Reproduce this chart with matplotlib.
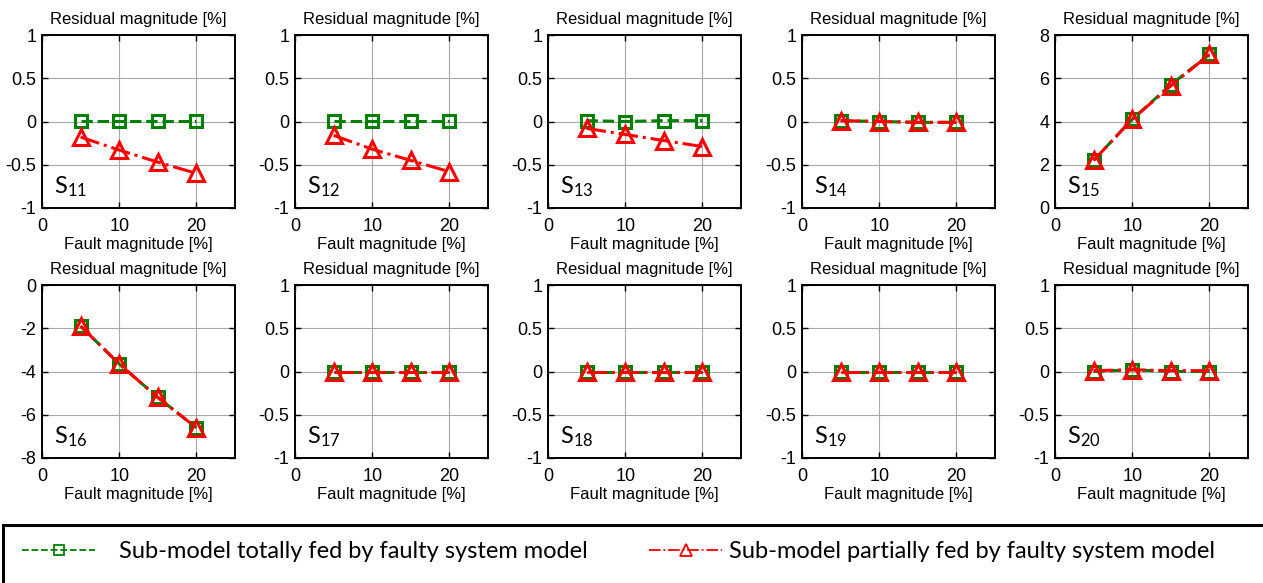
import matplotlib
matplotlib.use("Agg")
import matplotlib.pyplot as plt
from matplotlib.lines import Line2D
from matplotlib.patches import Rectangle

# Dane
fault = [5, 10, 15, 20]
sensors = ["11", "12", "13", "14", "15", "16", "17", "18", "19", "20"]

totally = [
    [0.01, 0.01, 0.01, 0.01],
    [0.01, 0.01, 0.01, 0.01],
    [0.01, 0.0, 0.01, 0.01],
    [0.01, 0.0, -0.01, -0.01],
    [2.2, 4.1, 5.7, 7.1],
    [-1.9, -3.65, -5.2, -6.6],
    [0.0, 0.0, 0.0, 0.0],
    [0.0, 0.0, 0.0, 0.0],
    [0.0, 0.0, 0.0, 0.0],
    [0.0, 0.02, 0.0, 0.0],
]
partially = [
    [-0.18, -0.33, -0.47, -0.6],
    [-0.16, -0.32, -0.45, -0.58],
    [-0.08, -0.15, -0.22, -0.29],
    [0.01, 0.0, -0.01, -0.01],
    [2.2, 4.1, 5.65, 7.1],
    [-1.9, -3.65, -5.2, -6.6],
    [0.0, 0.0, 0.0, 0.0],
    [0.0, 0.0, 0.0, 0.0],
    [0.0, 0.0, 0.0, 0.0],
    [0.01, 0.02, 0.01, 0.01],
]
ylims = [(-1, 1)] * 4 + [(0, 8), (-8, 0)] + [(-1, 1)] * 4

label_green = "Sub-model totally fed by faulty system model"
label_red = "Sub-model partially fed by faulty system model"

W, H = 1263, 583
plt.rcParams['font.family'] = ['Liberation Sans', 'DejaVu Sans']
plt.rcParams['axes.unicode_minus'] = False
fig = plt.figure(figsize=(W / 100, H / 100), dpi=100)

green = (0.0, 0.5, 0.0)
red = (1.0, 0.0, 0.0)

lefts = [42, 295, 548, 802, 1055]
bottoms = [208, 458]
aw, ah = 193, 173

for i, s in enumerate(sensors):
    r, c = divmod(i, 5)
    ax = fig.add_axes([lefts[c] / W, 1 - bottoms[r] / H, aw / W, ah / H])
    ax.plot(fault, totally[i], color=green, linestyle='--', linewidth=2.2,
            marker='s', markersize=8, markerfacecolor='none',
            markeredgewidth=2.2, zorder=3)
    ax.plot(fault, partially[i], color=red, linestyle='-.', linewidth=2.2,
            marker='^', markersize=12, markerfacecolor='none',
            markeredgewidth=2.2, zorder=4)
    ax.set_xlim(0, 25)
    ax.set_ylim(*ylims[i])
    ax.set_xticks([0, 10, 20])
    lo, hi = ylims[i]
    if hi - lo == 2:
        ax.set_yticks([-1, -0.5, 0, 0.5, 1])
        ax.set_yticklabels(['-1', '-0.5', '0', '0.5', '1'])
    else:
        ax.set_yticks(range(lo, hi + 1, 2))
    ax.grid(True, color='#a8a8a8', linewidth=0.8)
    ax.set_axisbelow(True)
    ax.tick_params(direction='in', top=True, right=True, length=4,
                   labelsize=13, width=1)
    ax.tick_params(axis='x', pad=7)
    ax.tick_params(axis='y', pad=4)
    for sp in ax.spines.values():
        sp.set_linewidth(1.4)
    ax.set_title("Residual magnitude [%]", fontsize=12, pad=8)
    ax.set_xlabel("Fault magnitude [%]", fontsize=12, labelpad=2)
    ax.text(0.06, 0.05, r"$\mathregular{S_{" + s + "}}$", transform=ax.transAxes,
            fontsize=17, family='Lato', ha='left', va='bottom')

# ramka legendy
fig.patches.append(Rectangle((3 / W, -0.05), 1.1, 1 - 525 / H + 0.05,
                             transform=fig.transFigure, fill=False,
                             edgecolor='black', linewidth=2.2))

h1 = Line2D([], [], color=green, linestyle='--', linewidth=1.3, marker='s',
            markersize=7, markerfacecolor='none', markeredgewidth=1.3)
h2 = Line2D([], [], color=red, linestyle='-.', linewidth=1.3, marker='^',
            markersize=9, markerfacecolor='none', markeredgewidth=1.3)
yl = 1 - 552 / H
fig.legend([h1], [label_green], frameon=False, loc='center left',
           bbox_to_anchor=(22 / W, yl), borderpad=0, borderaxespad=0,
           prop={'family': 'Lato', 'size': 17}, handlelength=3.1,
           handletextpad=1.0, numpoints=1)
fig.legend([h2], [label_red], frameon=False, loc='center left',
           bbox_to_anchor=(649 / W, yl), borderpad=0, borderaxespad=0,
           prop={'family': 'Lato', 'size': 17}, handlelength=3.1,
           handletextpad=0.3, numpoints=1)

fig.savefig("out.png", dpi=100)
